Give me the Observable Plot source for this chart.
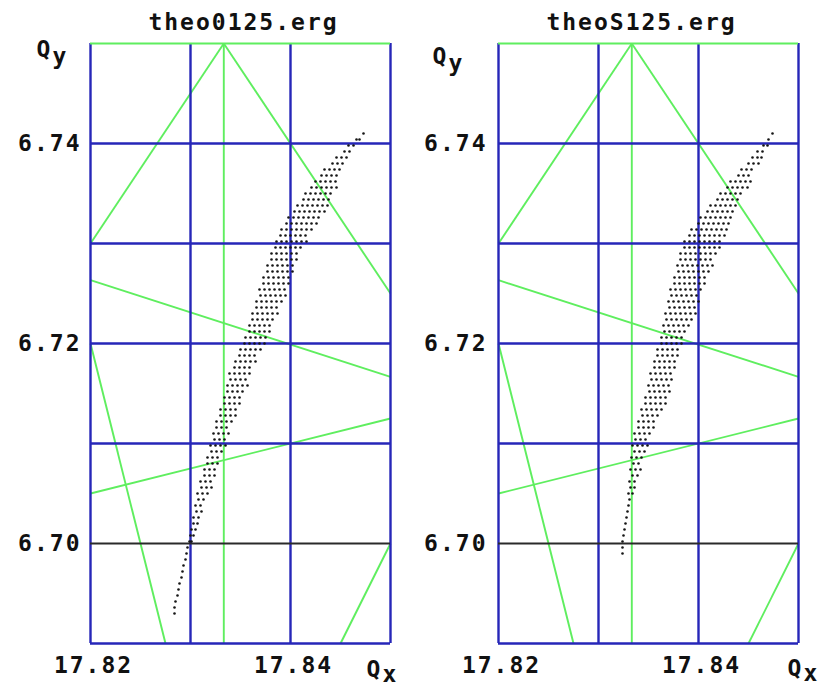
<!DOCTYPE html>
<html><head><meta charset="utf-8">
<script src="https://cdn.jsdelivr.net/npm/d3@7"></script>
<script src="https://cdn.jsdelivr.net/npm/@observablehq/plot@0.6"></script>
<style>
body{margin:0;background:#fff;}
#wrap{display:flex;width:821px;height:687px;overflow:hidden;}
#wrap svg{display:block;}
</style></head><body><div id="wrap"></div>
<script>
const titles = ["theo0125.erg", "theoS125.erg"];
const xTickLabels = [17.82, 17.84];
const yTickLabels = [6.70, 6.72, 6.74];
const gridX = [17.82, 17.83, 17.84, 17.85];
const gridY = [6.69, 6.71, 6.72, 6.73, 6.74];
const blackLineY = [6.70];
const greenTopY = [6.75];
const resonance = [
  {x1: 17.83333, y1: 6.69, x2: 17.83333, y2: 6.75},
  {x1: 17.82, y1: 6.73, x2: 17.83333, y2: 6.75},
  {x1: 17.83333, y1: 6.75, x2: 17.85, y2: 6.725},
  {x1: 17.82, y1: 6.72633, x2: 17.85, y2: 6.71667},
  {x1: 17.82, y1: 6.705, x2: 17.85, y2: 6.7125},
  {x1: 17.82, y1: 6.72, x2: 17.8275, y2: 6.69},
  {x1: 17.845, y1: 6.69, x2: 17.85, y2: 6.70}
];
// footprint rows: [Qy, Qx, Qx, ...]
const footprintLeft = [
[6.7410,17.8473],
[6.7404,17.8466,17.8469],
[6.7398,17.8458,17.8463],
[6.7392,17.8454,17.8459],
[6.7386,17.8446,17.8451,17.8456],
[6.7380,17.8442,17.8447,17.8452],
[6.7374,17.8434,17.8439,17.8444,17.8449],
[6.7368,17.8431,17.8436,17.8441,17.8446],
[6.7362,17.8425,17.8430,17.8435,17.8440,17.8445],
[6.7356,17.8421,17.8426,17.8431,17.8436,17.8441,17.8446],
[6.7350,17.8415,17.8420,17.8425,17.8430,17.8435,17.8440],
[6.7344,17.8413,17.8418,17.8423,17.8428,17.8433,17.8438],
[6.7338,17.8407,17.8412,17.8417,17.8422,17.8427,17.8432,17.8437],
[6.7332,17.8404,17.8409,17.8414,17.8419,17.8424,17.8429,17.8434],
[6.7326,17.8398,17.8403,17.8408,17.8413,17.8418,17.8423,17.8428],
[6.7320,17.8396,17.8401,17.8406,17.8411,17.8416,17.8421,17.8426],
[6.7314,17.8391,17.8396,17.8401,17.8406,17.8411,17.8416,17.8421],
[6.7308,17.8390,17.8395,17.8400,17.8405,17.8410,17.8415],
[6.7302,17.8386,17.8391,17.8396,17.8401,17.8406,17.8411,17.8416],
[6.7296,17.8385,17.8390,17.8395,17.8400,17.8405,17.8410],
[6.7290,17.8381,17.8386,17.8391,17.8396,17.8401,17.8406],
[6.7284,17.8381,17.8386,17.8391,17.8396,17.8401,17.8406],
[6.7278,17.8377,17.8382,17.8387,17.8392,17.8397,17.8402],
[6.7272,17.8377,17.8382,17.8387,17.8392,17.8397,17.8402],
[6.7266,17.8373,17.8378,17.8383,17.8388,17.8393,17.8398],
[6.7260,17.8373,17.8378,17.8383,17.8388,17.8393,17.8398],
[6.7254,17.8369,17.8374,17.8379,17.8384,17.8389,17.8394],
[6.7248,17.8370,17.8375,17.8380,17.8385,17.8390,17.8395],
[6.7242,17.8366,17.8371,17.8376,17.8381,17.8386,17.8391],
[6.7236,17.8366,17.8371,17.8376,17.8381,17.8386],
[6.7230,17.8362,17.8367,17.8372,17.8377,17.8382,17.8387],
[6.7224,17.8362,17.8367,17.8372,17.8377,17.8382],
[6.7218,17.8359,17.8364,17.8369,17.8374,17.8379],
[6.7212,17.8359,17.8364,17.8369,17.8374,17.8379],
[6.7206,17.8355,17.8360,17.8365,17.8370,17.8375],
[6.7200,17.8354,17.8359,17.8364,17.8369,17.8374],
[6.7194,17.8350,17.8355,17.8360,17.8365,17.8370],
[6.7188,17.8349,17.8354,17.8359,17.8364],
[6.7182,17.8345,17.8350,17.8355,17.8360,17.8365],
[6.7176,17.8344,17.8349,17.8354,17.8359],
[6.7170,17.8339,17.8344,17.8349,17.8354,17.8359],
[6.7164,17.8340,17.8345,17.8350,17.8355],
[6.7158,17.8337,17.8342,17.8347,17.8352,17.8357],
[6.7152,17.8337,17.8342,17.8347,17.8352],
[6.7146,17.8334,17.8339,17.8344,17.8349],
[6.7140,17.8334,17.8339,17.8344,17.8349],
[6.7134,17.8330,17.8335,17.8340,17.8345],
[6.7128,17.8330,17.8335,17.8340,17.8345],
[6.7122,17.8326,17.8331,17.8336,17.8341],
[6.7116,17.8326,17.8331,17.8336],
[6.7110,17.8323,17.8328,17.8333,17.8338],
[6.7104,17.8324,17.8329,17.8334],
[6.7098,17.8320,17.8325,17.8330,17.8335],
[6.7092,17.8321,17.8326,17.8331],
[6.7086,17.8317,17.8322,17.8327],
[6.7080,17.8317,17.8322,17.8327],
[6.7074,17.8314,17.8319,17.8324],
[6.7068,17.8314,17.8319,17.8324],
[6.7062,17.8310,17.8315,17.8320],
[6.7056,17.8311,17.8316,17.8321],
[6.7050,17.8307,17.8312,17.8317],
[6.7044,17.8308,17.8313],
[6.7038,17.8305,17.8310],
[6.7032,17.8306,17.8311],
[6.7026,17.8303,17.8308],
[6.7020,17.8303,17.8307],
[6.7014,17.8301,17.8305],
[6.7008,17.8300,17.8303],
[6.7002,17.8299,17.8301],
[6.6996,17.8297],
[6.6990,17.8296],
[6.6984,17.8295],
[6.6978,17.8293],
[6.6972,17.8292],
[6.6966,17.8291],
[6.6960,17.8289],
[6.6954,17.8288],
[6.6948,17.8287],
[6.6942,17.8285],
[6.6936,17.8284],
[6.6930,17.8284]
];
const footprintRight = [
[6.7410,17.8474],
[6.7404,17.8470],
[6.7398,17.8465,17.8469],
[6.7392,17.8459,17.8464],
[6.7386,17.8454,17.8459,17.8463],
[6.7380,17.8450,17.8455,17.8460],
[6.7374,17.8443,17.8448,17.8453],
[6.7368,17.8440,17.8445,17.8450],
[6.7362,17.8432,17.8437,17.8442,17.8447,17.8452],
[6.7356,17.8429,17.8434,17.8439,17.8444,17.8449],
[6.7350,17.8422,17.8427,17.8432,17.8437,17.8442],
[6.7344,17.8419,17.8424,17.8429,17.8434,17.8439],
[6.7338,17.8412,17.8417,17.8422,17.8427,17.8432,17.8437],
[6.7332,17.8409,17.8414,17.8419,17.8424,17.8429,17.8434],
[6.7326,17.8402,17.8407,17.8412,17.8417,17.8422,17.8427,17.8432],
[6.7320,17.8400,17.8405,17.8410,17.8415,17.8420,17.8425,17.8430],
[6.7314,17.8393,17.8398,17.8403,17.8408,17.8413,17.8418,17.8423,17.8428],
[6.7308,17.8391,17.8396,17.8401,17.8406,17.8411,17.8416,17.8421,17.8426],
[6.7302,17.8386,17.8391,17.8396,17.8401,17.8406,17.8411,17.8416,17.8421],
[6.7296,17.8386,17.8391,17.8396,17.8401,17.8406,17.8411,17.8416,17.8421],
[6.7290,17.8382,17.8387,17.8392,17.8397,17.8402,17.8407,17.8412,17.8417],
[6.7284,17.8382,17.8387,17.8392,17.8397,17.8402,17.8407,17.8412],
[6.7278,17.8379,17.8384,17.8389,17.8394,17.8399,17.8404,17.8409,17.8414],
[6.7272,17.8380,17.8385,17.8390,17.8395,17.8400,17.8405,17.8410],
[6.7266,17.8376,17.8381,17.8386,17.8391,17.8396,17.8401,17.8406],
[6.7260,17.8376,17.8381,17.8386,17.8391,17.8396,17.8401,17.8406],
[6.7254,17.8372,17.8377,17.8382,17.8387,17.8392,17.8397,17.8402],
[6.7248,17.8373,17.8378,17.8383,17.8388,17.8393,17.8398],
[6.7242,17.8370,17.8375,17.8380,17.8385,17.8390,17.8395,17.8400],
[6.7236,17.8371,17.8376,17.8381,17.8386,17.8391,17.8396],
[6.7230,17.8367,17.8372,17.8377,17.8382,17.8387,17.8392,17.8397],
[6.7224,17.8368,17.8373,17.8378,17.8383,17.8388,17.8393],
[6.7218,17.8365,17.8370,17.8375,17.8380,17.8385,17.8390],
[6.7212,17.8366,17.8371,17.8376,17.8381,17.8386],
[6.7206,17.8363,17.8368,17.8373,17.8378,17.8383],
[6.7200,17.8363,17.8368,17.8373,17.8378,17.8383],
[6.7194,17.8359,17.8364,17.8369,17.8374,17.8379],
[6.7188,17.8359,17.8364,17.8369,17.8374,17.8379],
[6.7182,17.8356,17.8361,17.8366,17.8371,17.8376],
[6.7176,17.8356,17.8361,17.8366,17.8371,17.8376],
[6.7170,17.8352,17.8357,17.8362,17.8367,17.8372],
[6.7164,17.8353,17.8358,17.8363,17.8368,17.8373],
[6.7158,17.8350,17.8355,17.8360,17.8365,17.8370],
[6.7152,17.8351,17.8356,17.8361,17.8366,17.8371],
[6.7146,17.8347,17.8352,17.8357,17.8362,17.8367],
[6.7140,17.8347,17.8352,17.8357,17.8362,17.8367],
[6.7134,17.8343,17.8348,17.8353,17.8358,17.8363],
[6.7128,17.8344,17.8349,17.8354,17.8359],
[6.7122,17.8340,17.8345,17.8350,17.8355],
[6.7116,17.8340,17.8345,17.8350,17.8355],
[6.7110,17.8336,17.8341,17.8346,17.8351],
[6.7104,17.8337,17.8342,17.8347],
[6.7098,17.8334,17.8339,17.8344,17.8349],
[6.7092,17.8336,17.8341,17.8346],
[6.7086,17.8333,17.8338,17.8343],
[6.7080,17.8335,17.8340],
[6.7074,17.8332,17.8337,17.8342],
[6.7068,17.8334,17.8339],
[6.7062,17.8331,17.8336],
[6.7056,17.8332,17.8336],
[6.7050,17.8330,17.8334],
[6.7044,17.8331],
[6.7038,17.8330],
[6.7032,17.8329],
[6.7026,17.8328],
[6.7020,17.8327],
[6.7014,17.8326],
[6.7008,17.8325],
[6.7002,17.8324],
[6.6996,17.8324],
[6.6990,17.8324]
];

const BLUE = "#2626b8", GREEN = "#5fee5f", BLACK = "#2a2a2a", INK = "#111";
const FONT = "'DejaVu Sans Mono', 'Liberation Mono', monospace";

function panel({title, rows, width, marginLeft, marginRight, titleDx, qy, qx, yDx, xDx}) {
  const pts = rows.flatMap(([qyv, ...xs]) => xs.map(qxv => ({qx: qxv, qy: qyv})));
  const t = {fontSize: 23, fontWeight: "bold", fill: INK};
  return Plot.plot({
    width, height: 687,
    marginLeft, marginRight, marginTop: 43, marginBottom: 44,
    x: {domain: [17.82, 17.85], axis: null},
    y: {domain: [6.69, 6.75], axis: null},
    style: {fontFamily: FONT, letterSpacing: "2px", background: "#fff", overflow: "visible"},
    marks: [
      Plot.link(resonance, {x1: "x1", y1: "y1", x2: "x2", y2: "y2", stroke: GREEN, strokeWidth: 1.9}),
      Plot.ruleX(gridX, {stroke: BLUE, strokeWidth: 2.4}),
      Plot.ruleY(gridY, {stroke: BLUE, strokeWidth: 2.4}),
      Plot.ruleY(blackLineY, {stroke: BLACK, strokeWidth: 2.2}),
      Plot.ruleY(greenTopY, {stroke: GREEN, strokeWidth: 2.2}),
      Plot.dot(pts, {x: "qx", y: "qy", r: 1.3, fill: "#151515"}),
      Plot.text([title], {text: d => d, frameAnchor: "top", dy: -21, dx: titleDx, lineAnchor: "middle", ...t}),
      Plot.text(yTickLabels, {y: d => d, text: d => d.toFixed(2), frameAnchor: "left", textAnchor: "end", dx: yDx, lineAnchor: "middle", ...t}),
      Plot.text(xTickLabels, {x: d => d, text: d => d.toFixed(2), frameAnchor: "bottom", dy: 22, dx: xDx, lineAnchor: "middle", ...t}),
      Plot.text(["Q"], {text: d => d, frameAnchor: "top-left", dx: qy[0], dy: qy[1], textAnchor: "start", lineAnchor: "bottom", ...t}),
      Plot.text(["y"], {text: d => d, frameAnchor: "top-left", dx: qy[0] + 16, dy: qy[1] + 7, textAnchor: "start", lineAnchor: "bottom", ...t}),
      Plot.text(["Q"], {text: d => d, frameAnchor: "bottom-right", dx: qx[0], dy: qx[1], textAnchor: "start", lineAnchor: "bottom", ...t}),
      Plot.text(["x"], {text: d => d, frameAnchor: "bottom-right", dx: qx[0] + 16, dy: qx[1] + 5, textAnchor: "start", lineAnchor: "bottom", ...t})
    ]
  });
}

const wrap = document.getElementById("wrap");
wrap.append(panel({title: titles[0], rows: footprintLeft, width: 410, marginLeft: 90, marginRight: 20,
  titleDx: 3, qy: [-54, 13], qx: [-24, 33], yDx: -9, xDx: 3}));
wrap.append(panel({title: titles[1], rows: footprintRight, width: 411, marginLeft: 88, marginRight: 23,
  titleDx: -7, qy: [-66, 20], qx: [-11, 32], yDx: -11, xDx: 3}));
</script></body></html>
